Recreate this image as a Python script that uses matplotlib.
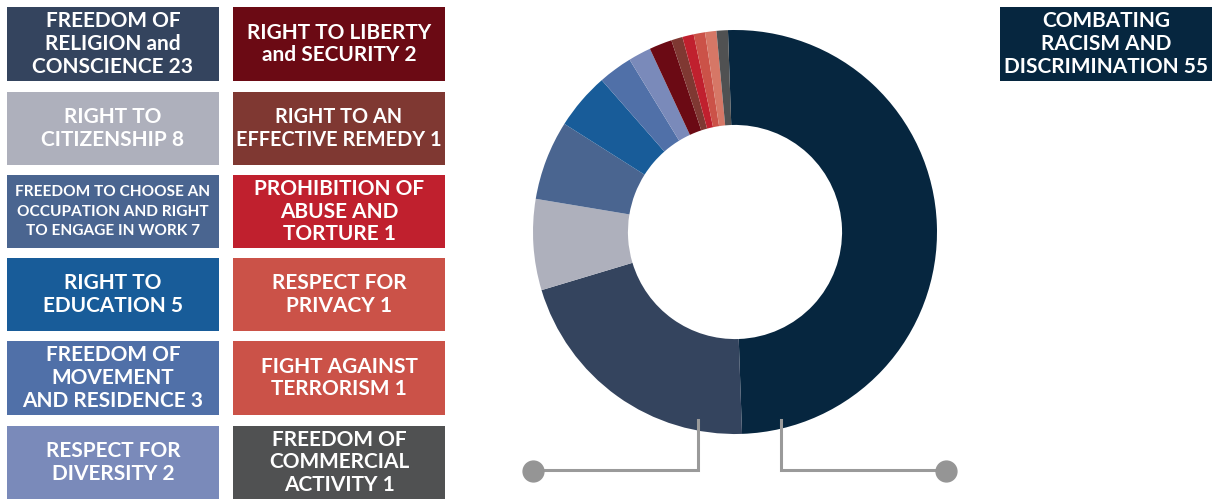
import matplotlib
matplotlib.use("Agg")
import matplotlib.pyplot as plt
from matplotlib.patches import Rectangle

plt.rcParams['font.family'] = ['Lato', 'DejaVu Sans']

# Data (clockwise from top)
labels = [
    "COMBATING\nRACISM AND\nDISCRIMINATION 55",
    "FREEDOM OF\nRELIGION and\nCONSCIENCE 23",
    "RIGHT TO\nCITIZENSHIP 8",
    "FREEDOM TO CHOOSE AN\nOCCUPATION AND RIGHT\nTO ENGAGE IN WORK 7",
    "RIGHT TO\nEDUCATION 5",
    "FREEDOM OF\nMOVEMENT\nAND RESIDENCE 3",
    "RESPECT FOR\nDIVERSITY 2",
    "RIGHT TO LIBERTY\nand SECURITY 2",
    "RIGHT TO AN\nEFFECTIVE REMEDY 1",
    "PROHIBITION OF\nABUSE AND\nTORTURE 1",
    "RESPECT FOR\nPRIVACY 1",
    "FIGHT AGAINST\nTERRORISM 1",
    "FREEDOM OF\nCOMMERCIAL\nACTIVITY 1",
]
values = [55, 23, 8, 7, 5, 3, 2, 2, 1, 1, 1, 1, 1]
colors = ["#06263f", "#34445e", "#aeb0bc", "#4a6590", "#185c99", "#5070a8",
          "#7a8aba", "#6b0a14", "#7f3832", "#c0202e", "#cb5248", "#d67766",
          "#505152"]
box_colors = ["#06263f", "#34445e", "#aeb0bc", "#4a6590", "#185c99", "#5070a8",
              "#7a8aba", "#6b0a14", "#7f3832", "#c0202e", "#cb5248", "#cb5248",
              "#505152"]

W, H = 1212, 501
fig = plt.figure(figsize=(W / 100, H / 100), dpi=100)
ax = fig.add_axes([0, 0, 1, 1])

def Y(y):
    return H - y

# Donut
cx, cy, R = 735, Y(232), 202
ax.pie(values, colors=colors, startangle=92, counterclock=False,
       center=(cx, cy), radius=R, frame=True,
       wedgeprops=dict(width=R * 0.47, linewidth=0))

# Boxes
col_x = [7, 233]
rows = [(7, 81), (92, 165), (175, 248), (258, 331), (341, 415), (426, 499)]
bw = 212

def box(x, y0, y1, text, color, fs=15.0, ls=1.17):
    ax.add_patch(Rectangle((x, Y(y1)), bw, y1 - y0, facecolor=color,
                           edgecolor='none', zorder=3))
    ax.text(x + bw / 2, Y((y0 + y1) / 2), text, ha='center', va='center',
            color='white', fontsize=fs, fontweight='bold', linespacing=ls,
            zorder=4)

# top-right box
box(1000, 7, 81, labels[0], box_colors[0])
# left column: items 1..6
for i in range(6):
    idx = 1 + i
    fs = 11.1 if idx == 3 else 15.0
    ls = 1.47 if idx == 3 else 1.17
    box(col_x[0], rows[i][0], rows[i][1], labels[idx], box_colors[idx], fs, ls)
# right column: items 7..12
for i in range(6):
    idx = 7 + i
    fs = 14.3 if idx == 8 else 15.0
    ls = 1.22 if idx == 8 else 1.17
    box(col_x[1], rows[i][0], rows[i][1], labels[idx], box_colors[idx], fs, ls)

# Connector lines
lc = "#9a9a9a"
ax.plot([698, 698, 533], [Y(420), Y(470), Y(470)], color=lc, lw=2.2,
        solid_joinstyle='miter', zorder=1)
ax.plot([781, 781, 946], [Y(420), Y(470), Y(470)], color=lc, lw=2.2,
        solid_joinstyle='miter', zorder=1)
ax.plot([533, 946], [Y(471), Y(471)], linestyle='none', marker='o',
        markersize=15, color="#959595", zorder=2)

ax.set_xlim(0, W)
ax.set_ylim(0, H)
ax.axis('off')
fig.savefig("out.png", dpi=100)
